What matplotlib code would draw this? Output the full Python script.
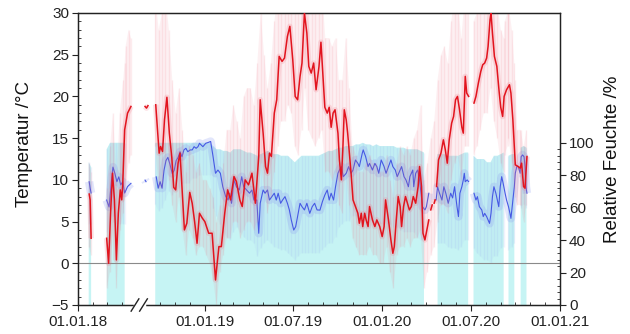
import numpy as np
import pandas as pd
import matplotlib
matplotlib.use('Agg')
import matplotlib.pyplot as plt
from matplotlib.ticker import FixedLocator, MultipleLocator

plt.rcParams['font.family'] = ['Liberation Sans', 'DejaVu Sans']

nan = np.nan

# daily mean temperature (degC), nan marks a logger gap
temp_dates = ['24.01.18', '26.01.18', '28.01.18', '30.01.18',
              '01.03.18', '05.03.18', '09.03.18', '13.03.18', '17.03.18', '21.03.18', '25.03.18', '29.03.18',
              '01.04.18', '03.04.18', '07.04.18', '13.04.18', '20.04.18', '22.04.18',
              '31.08.18', '03.09.18', '06.09.18', '08.09.18',
              '22.09.18', '26.09.18', '29.09.18', '02.10.18', '06.10.18', '10.10.18', '15.10.18', '20.10.18',
              '25.10.18', '29.10.18', '02.11.18', '07.11.18', '11.11.18', '15.11.18', '20.11.18', '25.11.18',
              '01.12.18', '06.12.18', '11.12.18', '16.12.18', '21.12.18', '27.12.18', '01.01.19', '09.01.19',
              '16.01.19', '23.01.19', '30.01.19', '04.02.19', '11.02.19', '17.02.19', '23.02.19', '02.03.19',
              '07.03.19', '14.03.19', '19.03.19', '25.03.19', '01.04.19', '08.04.19', '15.04.19', '22.04.19',
              '25.04.19', '01.05.19', '06.05.19', '10.05.19', '14.05.19', '18.05.19', '24.05.19', '29.05.19',
              '03.06.19', '09.06.19', '14.06.19', '20.06.19', '25.06.19', '01.07.19', '06.07.19', '11.07.19',
              '16.07.19', '20.07.19', '25.07.19', '30.07.19', '03.08.19', '08.08.19', '13.08.19', '18.08.19',
              '24.08.19', '28.08.19', '05.09.19', '10.09.19', '14.09.19', '18.09.19', '22.09.19', '26.09.19',
              '02.10.19', '05.10.19', '09.10.19', '12.10.19', '15.10.19', '19.10.19', '22.10.19', '29.10.19',
              '02.11.19', '07.11.19', '12.11.19', '15.11.19', '19.11.19', '22.11.19', '26.11.19', '29.11.19',
              '03.12.19', '06.12.19', '12.12.19', '17.12.19', '21.12.19', '27.12.19', '01.01.20', '05.01.20',
              '08.01.20', '14.01.20', '19.01.20', '23.01.20', '26.01.20', '30.01.20', '03.02.20', '07.02.20',
              '10.02.20', '14.02.20', '18.02.20', '22.02.20', '26.02.20', '01.03.20', '05.03.20', '10.03.20',
              '15.03.20', '18.03.20', '22.03.20', '25.03.20', '29.03.20', '02.04.20', '06.04.20', '08.04.20',
              '10.04.20', '13.04.20', '15.04.20', '17.04.20', '19.04.20', '20.04.20', '22.04.20', '26.04.20',
              '01.05.20', '06.05.20', '10.05.20', '14.05.20', '18.05.20', '23.05.20', '27.05.20', '31.05.20',
              '04.06.20', '08.06.20', '13.06.20', '16.06.20', '20.06.20', '23.06.20', '27.06.20', '02.07.20',
              '08.07.20', '12.07.20', '17.07.20', '22.07.20', '26.07.20', '30.07.20', '03.08.20', '06.08.20',
              '10.08.20', '12.08.20', '15.08.20', '19.08.20', '24.08.20', '29.08.20', '01.09.20', '05.09.20',
              '08.09.20', '13.09.20', '19.09.20', '22.09.20', '26.09.20', '29.09.20', '01.10.20', '07.10.20',
              '11.10.20', '14.10.20', '18.10.20', '21.10.20', '23.10.20', '25.10.20']
temp_mean = [8.3, 7.6, 3.0, nan,
             3.0, 0.0, 6.0, 10.8, 7.6, 0.4, 6.0, 8.8,
             7.6, 9.4, 16.0, 18.0, 18.8, nan,
             18.8, 18.6, 18.9, nan,
             19.0, 15.6, 13.2, 14.0, 13.4, 17.2, 19.9, 15.6,
             12.7, 9.1, 8.8, 12.0, 13.2, 9.1, 4.0, 4.8,
             8.5, 7.2, 5.0, 2.4, 6.0, 5.4, 5.0, 3.6,
             3.6, -2.0, 2.0, 2.0, 6.0, 8.8, 7.6, 10.4,
             9.8, 7.6, 6.8, 10.0, 9.4, 10.8, 7.2, 12.8,
             19.6, 15.6, 11.6, 10.8, 13.2, 12.8, 18.0, 19.6,
             24.8, 24.2, 24.6, 27.2, 28.4, 24.4, 20.0, 19.6,
             22.4, 24.0, 30.0, 27.6, 23.6, 22.8, 24.0, 20.8,
             23.6, 26.5, 18.7, 18.0, 18.7, 16.3, 18.0, 18.4,
             15.6, 12.4, 10.0, 13.6, 18.4, 17.2, 15.6, 10.8,
             7.6, 6.8, 6.0, 4.8, 6.0, 4.4, 6.0, 5.2,
             4.4, 6.8, 5.2, 4.4, 5.2, 4.4, 3.2, 4.4,
             7.6, 5.2, 2.8, 1.2, 2.0, 5.2, 8.0, 6.8,
             4.4, 6.8, 8.0, 7.2, 6.4, 6.8, 8.0, 7.2,
             9.2, 11.6, 9.2, 3.6, 2.8, 4.0, 5.2, nan,
             6.4, 7.0, nan, 7.2, 7.6, nan, 9.2, 12.4,
             13.2, 14.8, 13.6, 12.0, 14.8, 16.8, 17.6, 19.6,
             20.0, 18.5, 16.3, 15.6, 22.4, 20.4, 20.0, nan,
             19.2, 20.0, 21.6, 23.0, 23.8, 24.0, 24.6, 26.0,
             29.2, 30.0, 27.6, 24.8, 23.6, 20.4, 18.7, 17.6,
             20.0, 20.8, 21.4, 20.4, 17.2, 14.0, 11.8, 11.6,
             11.4, 12.0, 9.2, 9.0, 10.8, 12.8]

# daily mean relative humidity (%)
rh_dates = ['24.01.18', '26.01.18', '28.01.18', '30.01.18',
            '01.03.18', '06.03.18', '11.03.18', '14.03.18', '18.03.18', '22.03.18', '26.03.18', '30.03.18',
            '03.04.18', '07.04.18', '13.04.18', '20.04.18', '22.04.18',
            '31.08.18', '02.09.18', '04.09.18',
            '23.09.18', '27.09.18', '01.10.18', '05.10.18', '09.10.18', '13.10.18', '17.10.18', '21.10.18',
            '26.10.18', '30.10.18', '03.11.18', '07.11.18', '11.11.18', '15.11.18', '19.11.18', '23.11.18',
            '27.11.18', '02.12.18', '06.12.18', '10.12.18', '14.12.18', '18.12.18', '21.12.18', '28.12.18',
            '03.01.19', '08.01.19', '13.01.19', '18.01.19', '23.01.19', '28.01.19', '02.02.19', '07.02.19',
            '13.02.19', '18.02.19', '21.02.19', '25.02.19', '02.03.19', '07.03.19', '13.03.19', '18.03.19',
            '22.03.19', '28.03.19', '03.04.19', '08.04.19', '12.04.19', '18.04.19', '22.04.19', '25.04.19',
            '01.05.19', '05.05.19', '10.05.19', '14.05.19', '19.05.19', '24.05.19', '28.05.19', '01.06.19',
            '06.06.19', '10.06.19', '15.06.19', '20.06.19', '24.06.19', '28.06.19', '03.07.19', '07.07.19',
            '12.07.19', '16.07.19', '20.07.19', '25.07.19', '30.07.19', '05.08.19', '10.08.19', '15.08.19',
            '20.08.19', '26.08.19', '31.08.19', '05.09.19', '10.09.19', '14.09.19', '18.09.19', '23.09.19',
            '27.09.19', '02.10.19', '05.10.19', '09.10.19', '13.10.19', '19.10.19', '24.10.19', '29.10.19',
            '02.11.19', '07.11.19', '12.11.19', '15.11.19', '21.11.19', '23.11.19', '28.11.19', '03.12.19',
            '06.12.19', '12.12.19', '17.12.19', '21.12.19', '25.12.19', '30.12.19', '05.01.20', '09.01.20',
            '14.01.20', '19.01.20', '23.01.20', '28.01.20', '01.02.20', '07.02.20', '10.02.20', '15.02.20',
            '19.02.20', '24.02.20', '27.02.20', '04.03.20', '06.03.20', '10.03.20', '14.03.20', '17.03.20',
            '21.03.20', '24.03.20', '29.03.20', '01.04.20', '06.04.20', '08.04.20', '21.04.20', '24.04.20',
            '28.04.20', '03.05.20', '07.05.20', '11.05.20', '16.05.20', '21.05.20', '25.05.20', '29.05.20',
            '03.06.20', '06.06.20', '09.06.20', '13.06.20', '16.06.20', '18.06.20', '20.06.20', '24.06.20',
            '27.06.20', '02.07.20', '08.07.20', '12.07.20', '15.07.20', '19.07.20', '24.07.20', '27.07.20',
            '30.07.20', '03.08.20', '09.08.20', '12.08.20', '15.08.20', '18.08.20', '22.08.20', '25.08.20',
            '28.08.20', '31.08.20', '03.09.20', '06.09.20', '10.09.20', '13.09.20', '17.09.20', '20.09.20',
            '22.09.20', '26.09.20', '29.09.20', '01.10.20', '04.10.20', '07.10.20', '11.10.20', '13.10.20',
            '16.10.20', '19.10.20', '21.10.20', '23.10.20', '25.10.20']
rh_mean = [76, 72, 69, nan,
           64.7, 60.4, 77, 85, 81, 76, 79, 74,
           76, 69, 73, 75, nan,
           77, 76, nan,
           79, 72, 76, 72, 83, 89, 91, 87,
           81, 83, 89, 91, 94.5, 91.4, 95.6, 96.6,
           94.5, 95.6, 95.6, 97.6, 96.6, 97.6, 99.7, 97.6,
           99.7, 100.2, 100.8, 91.4, 81.2, 83.2, 81.2, 72.9,
           66.8, 64.7, 68.9, 62.7, 77.1, 72.9, 70.9, 79.1,
           72.9, 70.9, 68.9, 70.9, 64.7, 64.7, 44.2, 62.7,
           70.9, 68.9, 70.9, 64.7, 66.8, 68.9, 64.7, 68.9,
           62.7, 64.7, 66.8, 62.7, 58.6, 52.4, 46.2, 48.3,
           56.5, 62.7, 60.6, 58.6, 62.7, 56.5, 60.6, 62.7,
           58.6, 58.5, 63.7, 67.8, 70.9, 64.7, 68.9, 64.7,
           72.9, 81.2, 83.2, 85.3, 79.1, 81.2, 85.3, 81.2,
           83.2, 89.4, 87.3, 85.3, 93.5, 95.6, 91.4, 85.3,
           87.3, 83.2, 87.3, 85.3, 81.2, 89.4, 85.3, 81.2,
           85.3, 89.4, 85.3, 83.2, 79.1, 83.2, 85.3, 79.1,
           77.1, 72.9, 79.1, 83.2, 72.9, 81.2, 83.2, 79.1,
           68.9, 60.6, 58.6, 60.6, 68.9, nan, 64.7, 72.9,
           68.9, 64.7, 72.9, 68.9, 62.7, 68.9, 66.0, 72.9,
           60.6, 54.5, 68.9, 72.9, 77.1, 81.2, 76.0, 77.1,
           76.0, nan, 68.9, 64.7, 66.8, 60.6, 58.6, 54.5,
           56.5, 54.5, 50.3, 56.5, 66.8, 72.9, 68.9, 64.7,
           60.6, 72.9, 79.1, 75.0, 68.9, 64.7, 60.6, 56.5,
           53.4, 64.7, 72.9, 81.2, 85.3, 85.3, 81.2, 91.4,
           92.5, 91.4, 85.3, 72.9, 68.9]

# hourly extremes, one sample per week
env_dates = ['23.01.18', '28.01.18', '30.01.18',
             '01.03.18', '08.03.18', '14.03.18', '21.03.18', '28.03.18', '04.04.18', '07.04.18', '09.04.18',
             '15.04.18', '20.04.18', '22.04.18',
             '21.09.18', '28.09.18', '05.10.18', '12.10.18', '19.10.18', '26.10.18', '02.11.18', '09.11.18',
             '16.11.18', '23.11.18', '30.11.18', '07.12.18', '14.12.18', '21.12.18', '28.12.18', '04.01.19',
             '11.01.19', '18.01.19', '25.01.19', '01.02.19', '08.02.19', '15.02.19', '22.02.19', '01.03.19',
             '08.03.19', '15.03.19', '22.03.19', '29.03.19', '05.04.19', '12.04.19', '19.04.19', '26.04.19',
             '03.05.19', '10.05.19', '17.05.19', '24.05.19', '31.05.19', '07.06.19', '14.06.19', '21.06.19',
             '28.06.19', '05.07.19', '12.07.19', '19.07.19', '26.07.19', '02.08.19', '09.08.19', '16.08.19',
             '23.08.19', '30.08.19', '06.09.19', '13.09.19', '20.09.19', '27.09.19', '04.10.19', '11.10.19',
             '18.10.19', '25.10.19', '01.11.19', '08.11.19', '15.11.19', '22.11.19', '29.11.19', '06.12.19',
             '13.12.19', '20.12.19', '27.12.19', '03.01.20', '10.01.20', '17.01.20', '24.01.20', '31.01.20',
             '07.02.20', '14.02.20', '21.02.20', '28.02.20', '06.03.20', '13.03.20', '20.03.20', '27.03.20',
             '03.04.20', '10.04.20', '17.04.20', '24.04.20', '01.05.20', '08.05.20', '15.05.20', '22.05.20',
             '29.05.20', '05.06.20', '12.06.20', '19.06.20', '26.06.20', '28.06.20', '07.07.20', '14.07.20',
             '21.07.20', '28.07.20', '04.08.20', '11.08.20', '18.08.20', '25.08.20', '01.09.20', '07.09.20',
             '09.09.20', '15.09.20', '17.09.20', '24.09.20', '29.09.20', '30.09.20', '05.10.20', '11.10.20',
             '12.10.20', '18.10.20', '24.10.20']
temp_lo = [2, 1, nan,
           -3, -1, 5, -3, 4, 6, 8, 10,
           12, 13, nan,
           14, 9, 9, 12, 10, 7, 5, 8,
           4, 1, 4, 3, 1, 2, 2, 1,
           0, -2, -5, -1, 1, 3, 3, 5,
           5, 3, 4, 5, 5, 4, 5, 12,
           9, 6, 8, 11, 14, 17, 17, 19,
           18, 14, 13, 16, 21, 16, 15, 14,
           15, 16, 11, 11, 10, 11, 7, 6,
           11, 7, 3, 2, 1, 1, 1, 2,
           1, 1, 0, 0, 2, -1, -3, 1,
           2, 2, 3, 2, 3, 3, 4, -3,
           -1, 1, 2, 5, 7, 7, 6, 10,
           12, 13, 10, 14, 14, nan, 13, 14,
           16, 18, 18, 21, 17, 15, 12, 11,
           13, 14, 15, 12, 9, 8, 7, 7,
           7, 5, 7]
temp_hi = [12, 11, nan,
           9, 14, 18, 10, 18, 22, 24, 26,
           28, 27, nan,
           32, 28, 30, 32, 28, 22, 18, 21,
           16, 11, 14, 13, 11, 12, 10, 10,
           9, 8, 5, 7, 12, 16, 16, 19,
           17, 15, 20, 21, 21, 19, 24, 30,
           25, 21, 24, 29, 32, 33, 33, 34,
           34, 31, 30, 33, 35, 32, 31, 30,
           32, 33, 27, 27, 26, 27, 22, 22,
           27, 21, 14, 13, 11, 11, 12, 13,
           12, 12, 11, 11, 13, 10, 8, 12,
           14, 13, 14, 13, 15, 16, 19, 10,
           12, 15, 17, 22, 25, 26, 24, 29,
           32, 31, 27, 32, 32, nan, 29, 30,
           32, 33, 34, 36, 33, 31, 28, 27,
           29, 30, 31, 28, 24, 22, 16, 16,
           16, 14, 16]
rh_lo = [50, 50, nan,
         45, 50, 55, 50, 50, 50, 50, nan,
         nan, nan, nan,
         62, 58, 60, 65, 70, 68, 70, 72,
         75, 75, 75, 78, 78, 80, 80, 80,
         80, 60, 55, 50, 45, 42, 40, 45,
         48, 45, 42, 40, 40, 38, 30, 35,
         38, 40, 38, 36, 35, 34, 34, 32,
         30, 28, 30, 32, 32, 32, 32, 32,
         32, 34, 36, 38, 38, 42, 48, 50,
         52, 52, 55, 55, 55, 55, 52, 52,
         50, 52, 50, 50, 50, 50, 48, 48,
         46, 45, 45, 45, 45, 42, 40, 40,
         nan, nan, nan, 38, 38, 38, 36, 35,
         35, 34, 36, 40, 40, nan, 35, 32,
         30, 28, 28, 26, 30, 30, 35, 36,
         nan, nan, 34, 36, 38, nan, nan, nan,
         60, 62, 60]
rh_hi = [88, 85, nan,
         96, 100, 100, 100, 100, 100, 100, nan,
         nan, nan, nan,
         100, 100, 100, 100, 100, 100, 100, 100,
         100, 100, 100, 100, 100, 100, 100, 100,
         100, 98, 96, 96, 95, 95, 94, 96,
         96, 96, 95, 94, 94, 93, 92, 93,
         94, 95, 94, 93, 93, 92, 92, 92,
         90, 88, 90, 92, 92, 92, 92, 92,
         92, 93, 94, 95, 95, 96, 97, 97,
         98, 98, 98, 99, 99, 100, 99, 99,
         98, 99, 98, 98, 98, 98, 98, 97,
         97, 97, 96, 96, 96, 96, 95, 94,
         nan, nan, nan, 93, 93, 93, 92, 92,
         92, 92, 93, 94, 94, nan, 92, 90,
         90, 90, 88, 88, 92, 92, 93, 94,
         nan, nan, 92, 93, 93, nan, nan, nan,
         97, 98, 97]

# the axis is cut where nothing was logged
start = pd.Timestamp('2018-01-01')
cut_from = pd.Timestamp('2018-05-06')
cut_to = pd.Timestamp('2018-08-18')
cut_days = (cut_to - cut_from).days


def to_x(dates):
    d = pd.to_datetime(pd.Series(dates), format='%d.%m.%y')
    days = (d - start).dt.days.to_numpy(dtype=float)
    return np.where(d >= cut_to, days - cut_days, days)


tx = to_x(temp_dates)
rx = to_x(rh_dates)
ex = to_x(env_dates)
t_lo, t_hi = np.array(temp_lo, float), np.array(temp_hi, float)
h_lo, h_hi = np.array(rh_lo, float), np.array(rh_hi, float)

fig = plt.figure(figsize=(6.3, 3.34), dpi=100)
ax = fig.add_axes([78 / 630, 1 - 305 / 334, 482 / 630, 292 / 334])
ax2 = ax.twinx()
ax.set_zorder(ax2.get_zorder() + 1)
ax.patch.set_visible(False)

# humidity (lower layer): hourly range as cyan area + streaks, daily mean as line
ax2.fill_between(ex, 0, h_hi, color='#c6f4f4', lw=0)
ax2.fill_between(ex, h_lo, h_hi, color='#8c9cf0', alpha=0.06, lw=0)
ax2.vlines(ex, h_lo, h_hi, color='#8c9cf0', alpha=0.13, lw=1.0)
ax2.plot(rx, rh_mean, color='#8c9cf0', lw=6, alpha=0.25, solid_capstyle='butt')
ax2.plot(rx, rh_mean, color='#4659e4', lw=0.8)

# temperature (upper layer)
ax.fill_between(ex, t_lo, t_hi, color='#f07080', alpha=0.10, lw=0)
ax.vlines(ex, t_lo, t_hi, color='#f07080', alpha=0.13, lw=1.0)
ax.axhline(0, color='#8a8a8a', lw=0.8, zorder=2)
ax.plot(tx, temp_mean, color='#f07080', lw=4, alpha=0.2, solid_capstyle='butt')
ax.plot(tx, temp_mean, color='#e2141e', lw=1.1, zorder=3)

ax.set_ylim(-5, 30)
ax2.set_ylim(0, 180)
end_x = to_x(['01.01.21'])[0]
ax.set_xlim(0, end_x)

major = ['01.01.18', '01.01.19', '01.07.19', '01.01.20', '01.07.20', '01.01.21']
ax.xaxis.set_major_locator(FixedLocator(to_x(major)))
ax.set_xticklabels(major)
months = pd.date_range('2018-02-01', '2020-12-01', freq='MS').strftime('%d.%m.%y')
months = [m for m in months if not (cut_from - pd.Timedelta(days=10) <= pd.to_datetime(m, format='%d.%m.%y') <= cut_to + pd.Timedelta(days=20))]
ax.xaxis.set_minor_locator(FixedLocator(to_x(months)))

ax.yaxis.set_major_locator(MultipleLocator(5))
ax.yaxis.set_minor_locator(MultipleLocator(1))
ax2.yaxis.set_major_locator(FixedLocator([0, 20, 40, 60, 80, 100]))
ax2.yaxis.set_minor_locator(FixedLocator(list(range(0, 101, 4))))

for a in (ax, ax2):
    a.tick_params(which='major', direction='out', length=4, width=0.8, labelsize=11, pad=2.5,
                  colors='#222222')
    a.tick_params(which='minor', direction='in', length=2.5, width=0.6, colors='#222222')
    for s in a.spines.values():
        s.set_linewidth(0.9)
        s.set_color('#222222')
ax.tick_params(axis='x', which='major', pad=3)

ax.set_ylabel('Temperatur /°C', fontsize=13.5, color='#111111')
ax.yaxis.set_label_coords(-0.093, 0.55)
ax2.set_ylabel('Relative Feuchte /%', fontsize=13.5, color='#111111')
ax2.yaxis.set_label_coords(1.091, 0.5)

# break marks on the time axis
b1, b2 = (135 - 78) / 482, (143.5 - 78) / 482
ax.plot([b1, b2], [0, 0], color='white', lw=2.5, transform=ax.transAxes, clip_on=False, zorder=10)
for b in (b1, b2):
    ax.plot([b - 0.008, b + 0.008], [-0.021, 0.021], color='#222222', lw=1.0,
            transform=ax.transAxes, clip_on=False, zorder=11)

fig.savefig('out.png', dpi=100)
